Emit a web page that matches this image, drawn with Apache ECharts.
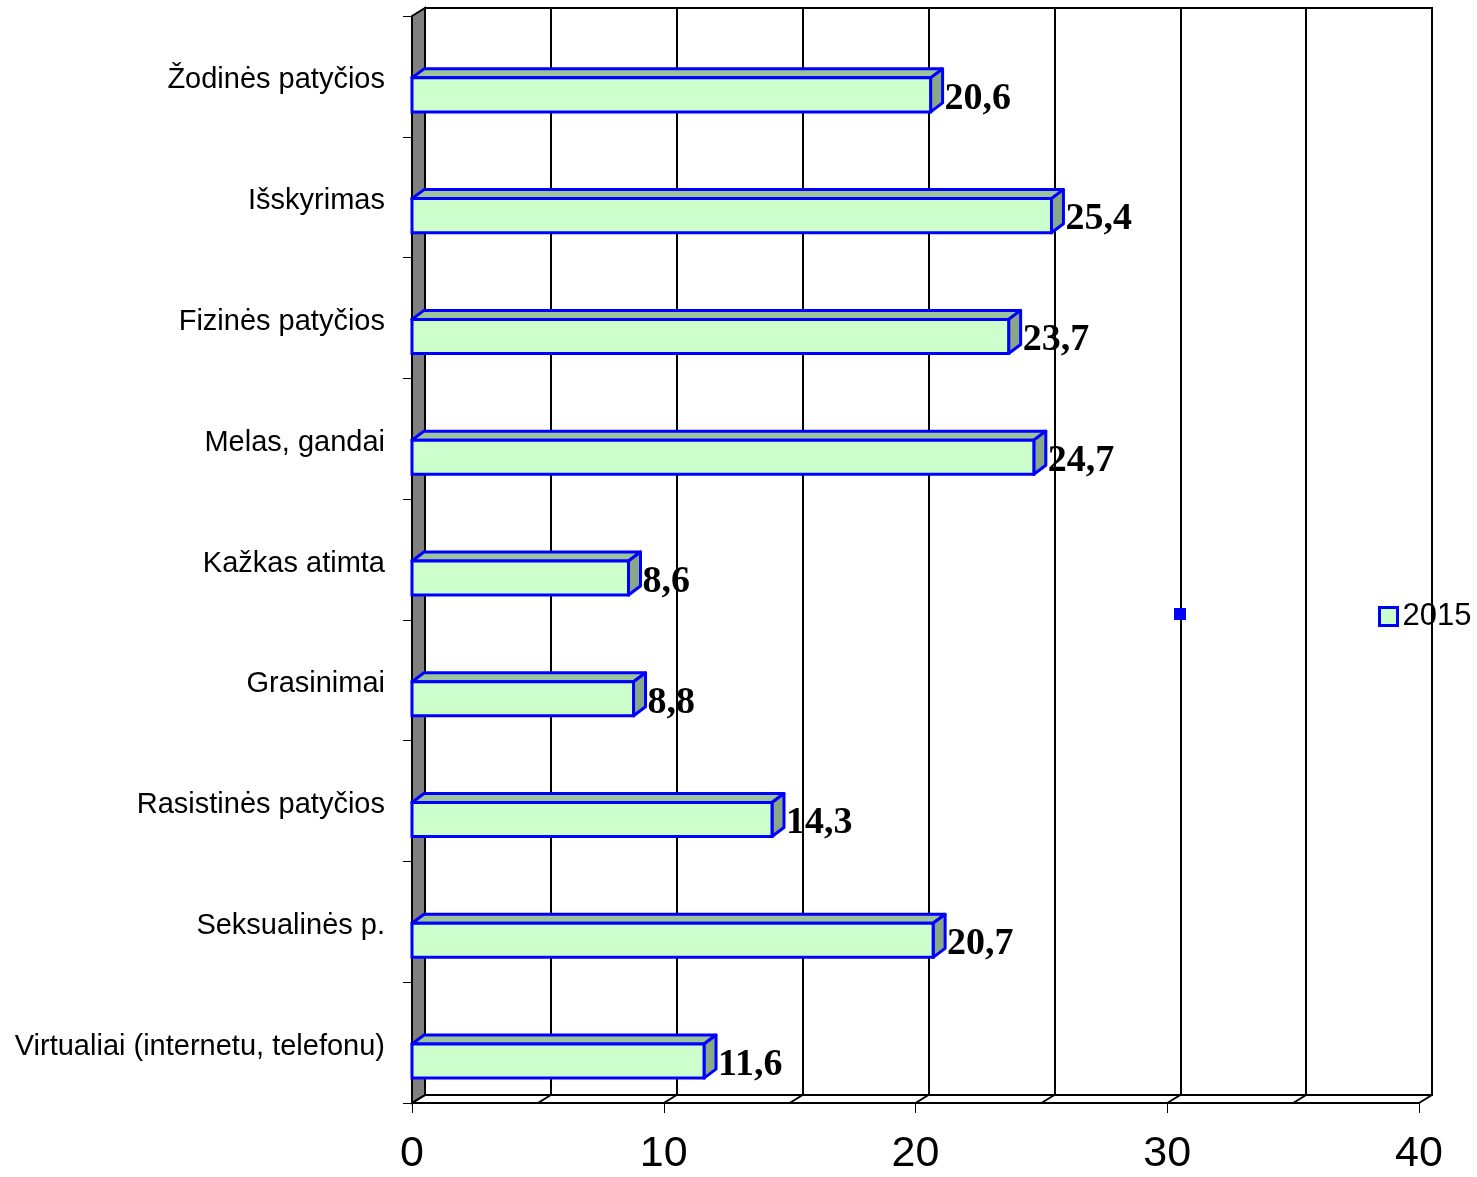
<!DOCTYPE html>
<html>
<head>
<meta charset="utf-8">
<script src="https://cdn.jsdelivr.net/npm/echarts@6/dist/echarts.min.js"></script>
<style>html,body{margin:0;padding:0;background:#fff;}#c{width:1477px;height:1177px;}</style>
</head>
<body>
<div id="c"></div>
<script>
const categories = ["Žodinės patyčios","Išskyrimas","Fizinės patyčios","Melas, gandai","Kažkas atimta","Grasinimai","Rasistinės patyčios","Seksualinės p.","Virtualiai (internetu, telefonu)"];
const values2015 = [20.6, 25.4, 23.7, 24.7, 8.6, 8.8, 14.3, 20.7, 11.6];
const seriesName = "2015";
const xTicks = [0, 10, 20, 30, 40];
const floorTicks = [0, 5, 10, 15, 20, 25, 30, 35, 40];

const DX = 13, DY = -8;
const chart = echarts.init(document.getElementById('c'));

function renderBar(params, api) {
  const v = api.value(0), idx = api.value(1);
  const p0 = api.coord([0, idx]);
  const p1 = api.coord([v, idx]);
  const band = api.size([0, 1])[1];
  const yT = p0[1] + band * 0.012, yB = p0[1] + band * 0.294;
  const x0 = p0[0], x1 = p1[0];
  const dx = 12, dy = -9;
  const stroke = '#0000FF', lw = 3;
  return {
    type: 'group',
    children: [
      {type: 'polygon', shape: {points: [[x0, yT], [x0 + dx, yT + dy], [x1 + dx, yT + dy], [x1, yT]]},
       style: {fill: '#9CC39C', stroke: stroke, lineWidth: lw, lineJoin: 'round'}},
      {type: 'polygon', shape: {points: [[x1, yT], [x1 + dx, yT + dy], [x1 + dx, yB + dy], [x1, yB]]},
       style: {fill: '#88A888', stroke: stroke, lineWidth: lw, lineJoin: 'round'}},
      {type: 'rect', shape: {x: x0, y: yT, width: x1 - x0, height: yB - yT},
       style: {fill: '#CCFFCC', stroke: stroke, lineWidth: lw}},
      {type: 'text', x: x1 + dx + 2, y: (yT + yB) / 2 + 4,
       style: {text: v.toFixed(1).replace('.', ','), fill: '#000', fontFamily: 'Liberation Serif, Times New Roman, serif',
               fontWeight: 'bold', fontSize: 38, verticalAlign: 'middle', align: 'left'}}
    ]
  };
}

function renderWall(params, api) {
  const cs = params.coordSys;
  return {
    type: 'polygon',
    shape: {points: [[cs.x, cs.y], [cs.x + DX, cs.y + DY], [cs.x + DX, cs.y + cs.height + DY], [cs.x, cs.y + cs.height]]},
    style: {fill: '#808080', stroke: '#000', lineWidth: 2}
  };
}

function renderFloorTick(params, api) {
  const cs = params.coordSys;
  const x = api.coord([api.value(0), 0])[0];
  const yb = cs.y + cs.height;
  return {
    type: 'line',
    shape: {x1: x, y1: yb, x2: x + DX, y2: yb + DY},
    style: {stroke: '#000', lineWidth: 2}
  };
}

chart.setOption({
  animation: false,
  backgroundColor: '#fff',
  grid: [
    {left: 412, right: 58, top: 16, bottom: 74},
    {left: 425, right: 45, top: 8, bottom: 82, show: true, borderColor: '#000', borderWidth: 2, backgroundColor: 'transparent', z: 0}
  ],
  xAxis: [
    {type: 'value', gridIndex: 0, min: 0, max: 40, interval: 10,
     axisLine: {show: true, lineStyle: {color: '#000', width: 2}},
     axisTick: {show: true, length: 10, lineStyle: {color: '#000', width: 1}},
     splitLine: {show: false},
     axisLabel: {color: '#000', fontSize: 43, fontFamily: 'Liberation Sans, Arial, sans-serif', margin: 30,
       formatter: function (v) { return xTicks.indexOf(v) >= 0 ? String(v) : ''; }}},
    {type: 'value', gridIndex: 1, min: 0, max: 40, interval: 5,
     axisLine: {show: false}, axisTick: {show: false}, axisLabel: {show: false},
     splitLine: {show: true, lineStyle: {color: '#000', width: 2}}}
  ],
  yAxis: [
    {type: 'category', gridIndex: 0, data: categories, inverse: true,
     axisLine: {show: true, lineStyle: {color: '#000', width: 1}},
     axisTick: {show: true, length: 9, lineStyle: {color: '#000', width: 1}},
     axisLabel: {color: '#000', fontSize: 29, fontFamily: 'Liberation Sans, Arial, sans-serif', margin: 27,
       verticalAlign: 'top', lineHeight: 8}},
    {type: 'category', gridIndex: 1, data: categories, inverse: true, show: false}
  ],
  legend: {
    data: [seriesName], left: 1373, top: 596, padding: 5, icon: 'rect', itemWidth: 18, itemHeight: 18, itemGap: 6,
    textStyle: {fontSize: 31, color: '#000', fontFamily: 'Liberation Sans, Arial, sans-serif'},
    itemStyle: {color: '#CCFFCC', borderColor: '#0000FF', borderWidth: 3}
  },
  graphic: [
    {type: 'rect', left: 1174, top: 608, z: 100, shape: {width: 12, height: 12}, style: {fill: '#0000FF'}}
  ],
  series: [
    {type: 'custom', name: 'wall', xAxisIndex: 0, yAxisIndex: 0, renderItem: renderWall, data: [[0, 0]], clip: false, z: 2, silent: true},
    {type: 'custom', name: 'floor', xAxisIndex: 0, yAxisIndex: 0, renderItem: renderFloorTick,
     data: floorTicks.map(v => [v, 0]), clip: false, z: 2, silent: true},
    {type: 'custom', name: seriesName, xAxisIndex: 0, yAxisIndex: 0, renderItem: renderBar,
     itemStyle: {color: '#CCFFCC', borderColor: '#0000FF', borderWidth: 3},
     data: values2015.map((v, i) => [v, i]), clip: false, z: 5}
  ]
});
</script>
</body>
</html>
